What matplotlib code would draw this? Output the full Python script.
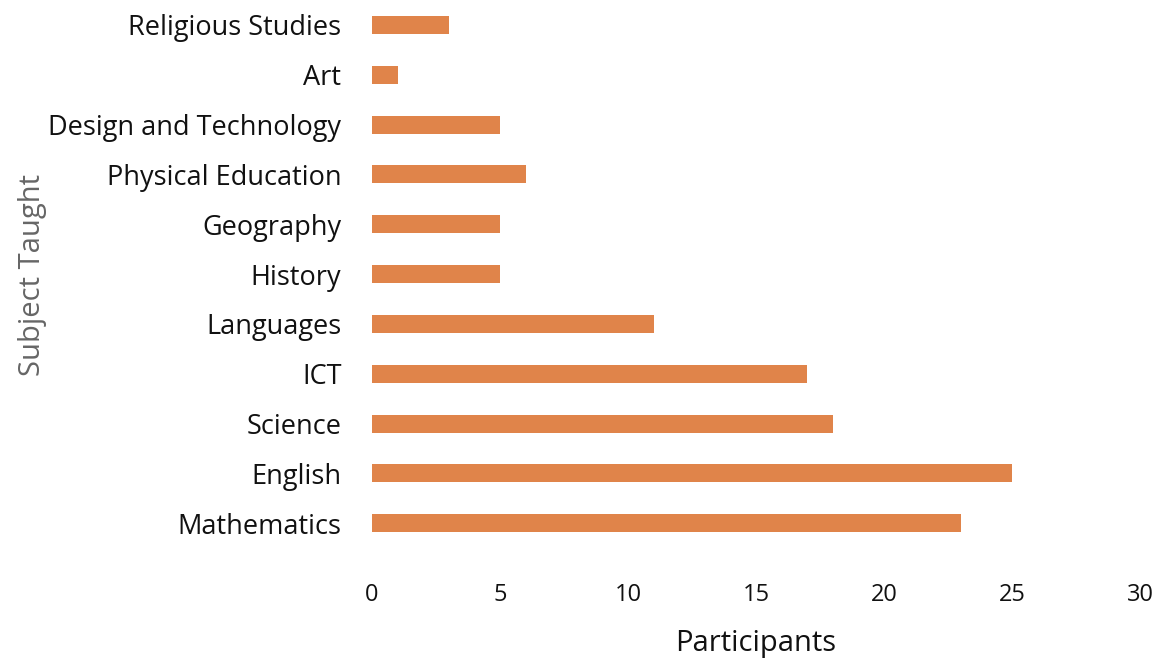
import matplotlib
matplotlib.use("Agg")
import matplotlib.pyplot as plt

subjects = ["Mathematics", "English", "Science", "ICT", "Languages", "History",
            "Geography", "Physical Education", "Design and Technology", "Art",
            "Religious Studies"]
participants = [23, 25, 18, 17, 11, 5, 5, 6, 5, 1, 3]
x_ticks = [0, 5, 10, 15, 20, 25, 30]

plt.rcParams["font.family"] = ["Open Sans", "DejaVu Sans"]

fig = plt.figure(figsize=(11.68, 6.62), dpi=100)
ax = fig.add_axes([0.3185, 0.172, 0.6575, 0.828])

ax.barh(range(len(subjects)), participants, height=0.36, color="#E0844A")
ax.set_yticks(range(len(subjects)))
ax.set_yticklabels(subjects, fontsize=19.5, color="#111111")
ax.set_xticks(x_ticks)
ax.set_xticklabels([str(t) for t in x_ticks], fontsize=17, color="#111111")
ax.set_xlim(0, 30)
ax.set_ylim(-0.5, len(subjects) - 0.5)
ax.tick_params(axis="y", length=0, pad=22)
ax.tick_params(axis="x", length=0, pad=25)
for s in ax.spines.values():
    s.set_visible(False)

ax.set_xlabel("Participants", fontsize=21, color="#111111", labelpad=16)
fig.text(0.028, 0.585, "Subject Taught", rotation=90, fontsize=21,
         color="#666666", ha="center", va="center")

fig.savefig("out.png", dpi=100)
